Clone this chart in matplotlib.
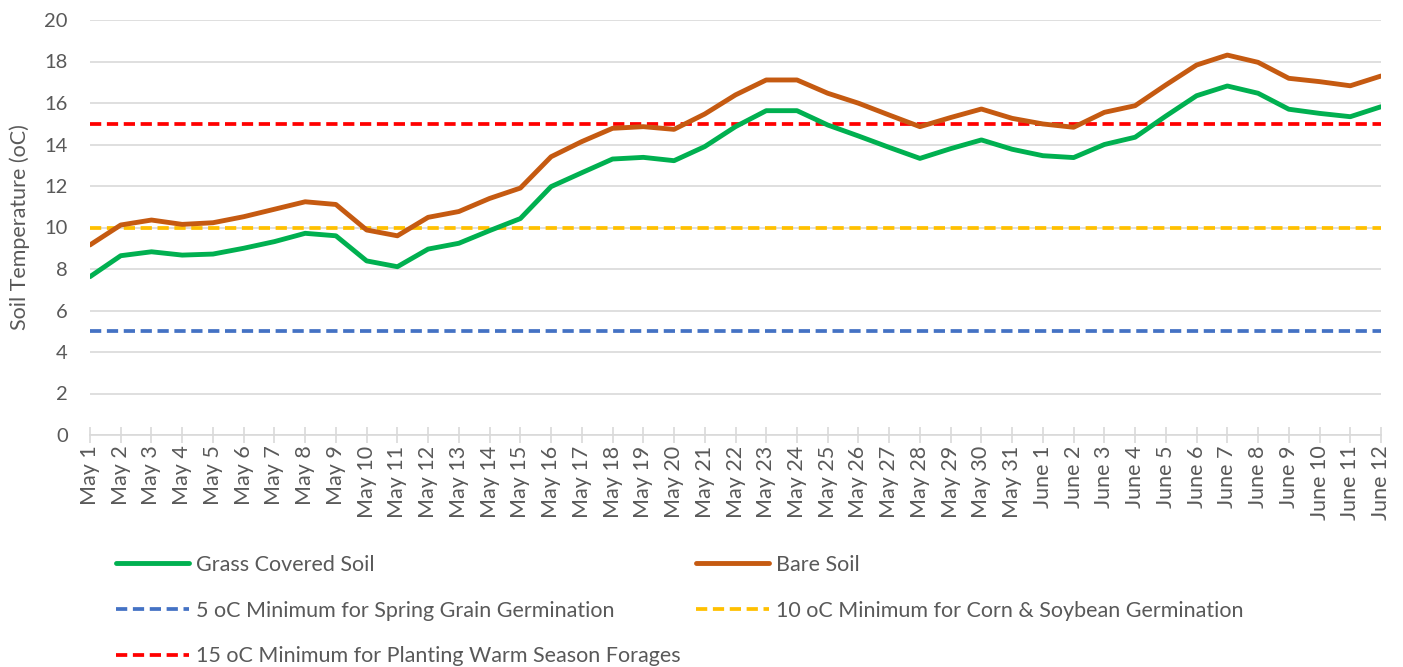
import matplotlib
matplotlib.use('Agg')
import matplotlib.pyplot as plt
import numpy as np

# Data
dates = ['May 1', 'May 2', 'May 3', 'May 4', 'May 5', 'May 6', 'May 7', 'May 8',
         'May 9', 'May 10', 'May 11', 'May 12', 'May 13', 'May 14', 'May 15',
         'May 16', 'May 17', 'May 18', 'May 19', 'May 20', 'May 21', 'May 22',
         'May 23', 'May 24', 'May 25', 'May 26', 'May 27', 'May 28', 'May 29',
         'May 30', 'May 31', 'June 1', 'June 2', 'June 3', 'June 4', 'June 5',
         'June 6', 'June 7', 'June 8', 'June 9', 'June 10', 'June 11', 'June 12']

grass = [7.63, 8.64, 8.83, 8.67, 8.72, 9.0, 9.32, 9.72, 9.6, 8.39, 8.11, 8.96,
         9.24, 9.85, 10.43, 11.97, 12.64, 13.3, 13.38, 13.22, 13.9, 14.86, 15.63,
         15.63, 14.94, 14.41, 13.86, 13.33, 13.8, 14.22, 13.77, 13.46, 13.37,
         14.0, 14.35, 15.37, 16.35, 16.82, 16.47, 15.7, 15.5, 15.34, 15.82]

bare = [9.16, 10.12, 10.36, 10.15, 10.23, 10.52, 10.88, 11.24, 11.11, 9.88, 9.6,
        10.49, 10.77, 11.4, 11.9, 13.41, 14.14, 14.78, 14.86, 14.73, 15.47, 16.39,
        17.11, 17.11, 16.47, 15.99, 15.42, 14.86, 15.3, 15.71, 15.26, 14.99,
        14.83, 15.55, 15.87, 16.87, 17.83, 18.31, 17.96, 17.19, 17.03, 16.83, 17.3]

thresholds = [5, 10, 15]
threshold_labels = ['5 oC Minimum for Spring Grain Germination',
                    '10 oC Minimum for Corn & Soybean Germination',
                    '15 oC Minimum for Planting Warm Season Forages']
threshold_colors = ['#4472C4', '#FFC000', '#FF0000']

plt.rcParams['font.family'] = ['Lato', 'DejaVu Sans']
text_gray = '#595959'
grid_gray = '#D9D9D9'

fig = plt.figure(figsize=(14.03, 6.67), dpi=100)
ax = fig.add_axes([90 / 1403, 1 - 435 / 667, (1381 - 90) / 1403, (435 - 20) / 667])

x = np.arange(len(dates))

# threshold lines
th_handles = []
for val, lab, col in zip(thresholds, threshold_labels, threshold_colors):
    h, = ax.plot(x, [val] * len(x), color=col, linewidth=2.7,
                 dashes=(3.0, 1.5), label=lab, zorder=3)
    th_handles.append(h)

g_line, = ax.plot(x, grass, color='#00B050', linewidth=3.5, label='Grass Covered Soil',
                  solid_capstyle='round', solid_joinstyle='round', zorder=4)
b_line, = ax.plot(x, bare, color='#C55A11', linewidth=3.5, label='Bare Soil',
                  solid_capstyle='round', solid_joinstyle='round', zorder=4)

ax.set_xlim(0, len(dates) - 1)
ax.set_ylim(0, 20)
ax.set_yticks(np.arange(0, 21, 2))
ax.set_xticks(x)
ax.set_xticklabels(dates, rotation=90)

ax.grid(axis='y', color=grid_gray, linewidth=1.2, zorder=0)
for s in ['top', 'right', 'left']:
    ax.spines[s].set_visible(False)
ax.spines['bottom'].set_color(grid_gray)
ax.spines['bottom'].set_linewidth(1.2)

ax.tick_params(axis='y', length=0, pad=16, labelsize=14.5, labelcolor=text_gray)
ax.tick_params(axis='x', direction='inout', length=11, width=1.2, color=grid_gray,
               labelsize=15.5, labelcolor=text_gray, pad=2)

ax.set_ylabel('Soil Temperature (oC)', fontsize=15.5, color=text_gray, labelpad=10)

# legend, two columns placed under the chart
leg_kw = dict(frameon=False, fontsize=15.5, handlelength=3.4, handletextpad=0.33,
              labelcolor=text_gray, labelspacing=1.19, borderaxespad=0, borderpad=0)
leg1 = fig.legend([g_line, th_handles[0], th_handles[2]],
                  ['Grass Covered Soil', threshold_labels[0], threshold_labels[2]],
                  loc='upper left', bbox_to_anchor=(116 / 1403, 1 - 555 / 667), **leg_kw)
leg2 = fig.legend([b_line, th_handles[1]],
                  ['Bare Soil', threshold_labels[1]],
                  loc='upper left', bbox_to_anchor=(696 / 1403, 1 - 555 / 667), **leg_kw)

fig.savefig('out.png', dpi=100)
